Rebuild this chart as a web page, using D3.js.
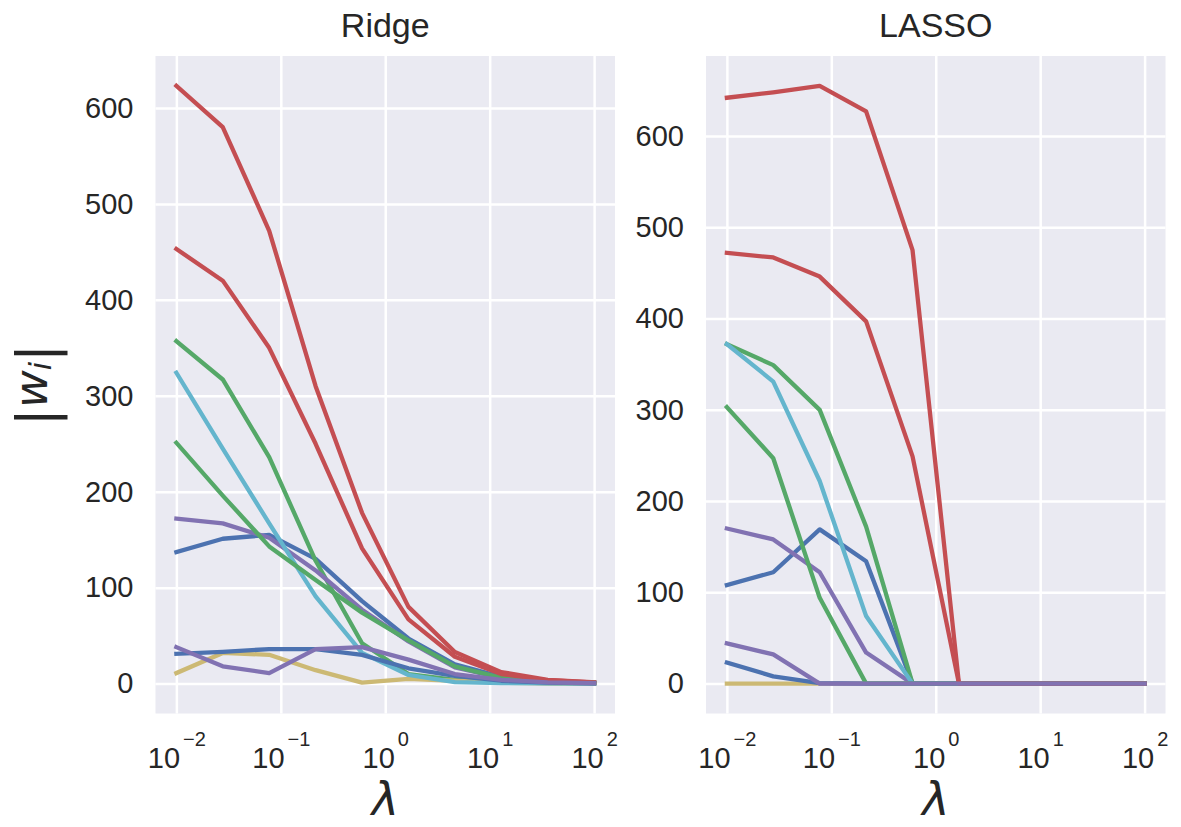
<!DOCTYPE html>
<html>
<head>
<meta charset="utf-8">
<script src="https://cdn.jsdelivr.net/npm/d3@7"></script>
<style>
  body { margin: 0; background: #ffffff; }
  svg { display: block; }
</style>
</head>
<body>
<svg id="chart" width="1181" height="827"></svg>
<script>
// ---------------- data ----------------
const lambdas = [0.01, 0.0278, 0.0774, 0.2154, 0.5995, 1.668, 4.642, 12.92, 35.94, 100];

const xTickValues = [0.01, 0.1, 1, 10, 100];
const xTickExponents = ["\u22122", "\u22121", "0", "1", "2"];
const yTickValues = [0, 100, 200, 300, 400, 500, 600];

const panelTitles = ["Ridge", "LASSO"];

// seaborn "deep" colour cycle
const palette = ["#4C72B0", "#55A868", "#C44E52", "#8172B2", "#CCB974", "#64B5CD"];

// |w_i| for each of the 10 coefficients (drawing order = colour cycle order)
const ridge0 = [137, 151, 155, 130, 86, 47, 20, 7, 2.5, 0.8];
const ridge1 = [357, 317, 236, 128, 42, 10, 4, 1.5, 0.5, 0.2];
const ridge2 = [623, 580, 472, 310, 178, 80, 33, 12, 4, 1.3];
const ridge3 = [172, 167, 152, 118, 77, 44, 17, 6, 2, 0.7];
const ridge4 = [11, 32, 30, 14, 1, 5, 3, 1, 0.4, 0.1];
const ridge5 = [324, 245, 167, 91, 32, 9, 1.5, 0.5, 0.2, 0.1];
const ridge6 = [31, 33, 36, 36, 30, 16, 8, 3, 1, 0.3];
const ridge7 = [251, 196, 143, 108, 74, 45, 18, 6, 2, 0.7];
const ridge8 = [453, 420, 350, 250, 141, 67, 28, 10, 3.5, 1.2];
const ridge9 = [38, 18, 11, 36, 38, 25, 10, 4, 1.3, 0.4];

const lasso0 = [108, 122, 169, 134, 0, 0, 0, 0, 0, 0];
const lasso1 = [372, 349, 300, 172, 0, 0, 0, 0, 0, 0];
const lasso2 = [642, 648, 655, 627, 475, 0, 0, 0, 0, 0];
const lasso3 = [170, 158, 122, 34, 0, 0, 0, 0, 0, 0];
const lasso4 = [0, 0, 0, 0, 0, 0, 0, 0, 0, 0];
const lasso5 = [372, 331, 222, 74, 0, 0, 0, 0, 0, 0];
const lasso6 = [23, 8, 0.5, 0, 0, 0, 0, 0, 0, 0];
const lasso7 = [303, 247, 94, 0, 0, 0, 0, 0, 0, 0];
const lasso8 = [472, 467, 446, 397, 249, 0, 0, 0, 0, 0];
const lasso9 = [44, 32, 0, 0, 0, 0, 0, 0, 0, 0];

const ridgeSeries = [ridge0, ridge1, ridge2, ridge3, ridge4, ridge5, ridge6, ridge7, ridge8, ridge9];
const lassoSeries = [lasso0, lasso1, lasso2, lasso3, lasso4, lasso5, lasso6, lasso7, lasso8, lasso9];

// ---------------- layout ----------------
const layout = {
  top: 56, bottom: 713.5,
  panels: [{ left: 155.5, right: 615 }, { left: 706, right: 1165.5 }]
};
const TXT = "#262626";
const sans = "'Liberation Sans', Arial, Helvetica, sans-serif";
const math = "'DejaVu Sans', sans-serif";

const svg = d3.select("#chart");
const allSeries = [ridgeSeries, lassoSeries];

allSeries.forEach((series, p) => {
  const L = layout.panels[p];
  const w = L.right - L.left, h = layout.bottom - layout.top;
  const g = svg.append("g").attr("transform", `translate(${L.left},${layout.top})`);

  // matplotlib-style 5% margins
  const lx = d3.extent(lambdas).map(Math.log10);
  const spanX = lx[1] - lx[0];
  const x = d3.scaleLog()
    .domain([Math.pow(10, lx[0] - 0.05 * spanX), Math.pow(10, lx[1] + 0.05 * spanX)])
    .range([0, w]);
  const yMax = d3.max(series, s => d3.max(s)), yMin = 0;
  const spanY = yMax - yMin;
  const y = d3.scaleLinear()
    .domain([yMin - 0.05 * spanY, yMax + 0.05 * spanY])
    .range([h, 0]);

  g.append("rect").attr("width", w).attr("height", h).attr("fill", "#EAEAF2");

  // x grid + tick labels
  const xa = g.append("g").attr("transform", `translate(0,${h})`)
    .call(d3.axisBottom(x).tickValues(xTickValues).tickSize(-h).tickFormat(() => ""));
  xa.select(".domain").remove();
  xa.selectAll(".tick line").attr("stroke", "#ffffff").attr("stroke-width", 2.5);
  xa.selectAll(".tick text").each(function (d, i) {
    const t = d3.select(this);
    t.text(null).attr("y", 54.5).attr("dy", 0)
      .attr("fill", TXT).attr("font-family", sans).attr("font-size", 29);
    t.append("tspan").text("10");
    t.append("tspan").attr("dx", 3).attr("dy", -22).attr("font-size", 20).text(xTickExponents[i]);
  });

  // y grid + tick labels
  const ya = g.append("g")
    .call(d3.axisLeft(y).tickValues(yTickValues).tickSize(-w).tickPadding(22));
  ya.select(".domain").remove();
  ya.selectAll(".tick line").attr("stroke", "#ffffff").attr("stroke-width", 2.5);
  ya.selectAll(".tick text").attr("fill", TXT).attr("font-family", sans).attr("font-size", 29);

  // lines
  const line = d3.line().x((d, i) => x(lambdas[i])).y(d => y(d));
  series.forEach((s, k) => {
    g.append("path").datum(s)
      .attr("d", line)
      .attr("fill", "none")
      .attr("stroke", palette[k % palette.length])
      .attr("stroke-width", 4.3)
      .attr("stroke-linejoin", "round")
      .attr("stroke-linecap", "square");
  });

  // title
  svg.append("text")
    .attr("x", L.left + w / 2).attr("y", 37)
    .attr("text-anchor", "middle")
    .attr("font-family", sans).attr("font-size", 34).attr("fill", TXT)
    .text(panelTitles[p]);

  // x label
  svg.append("text")
    .attr("x", L.left + w / 2).attr("y", 815)
    .attr("text-anchor", "middle")
    .attr("font-family", math).attr("font-style", "italic").attr("font-size", 46).attr("fill", TXT)
    .text("\u03BB");
});

// y label |w_i|
const yl = svg.append("text")
  .attr("transform", `translate(47,385) rotate(-90)`)
  .attr("text-anchor", "middle")
  .attr("font-family", math).attr("fill", TXT);
yl.append("tspan").attr("font-size", 54).attr("dy", 8).text("|");
yl.append("tspan").attr("font-size", 46).attr("font-style", "italic").attr("dy", -8).text("w");
yl.append("tspan").attr("font-size", 30).attr("font-style", "italic").attr("dy", 4).text("i");
yl.append("tspan").attr("font-size", 54).attr("dy", 4).text("|");
</script>
</body>
</html>
